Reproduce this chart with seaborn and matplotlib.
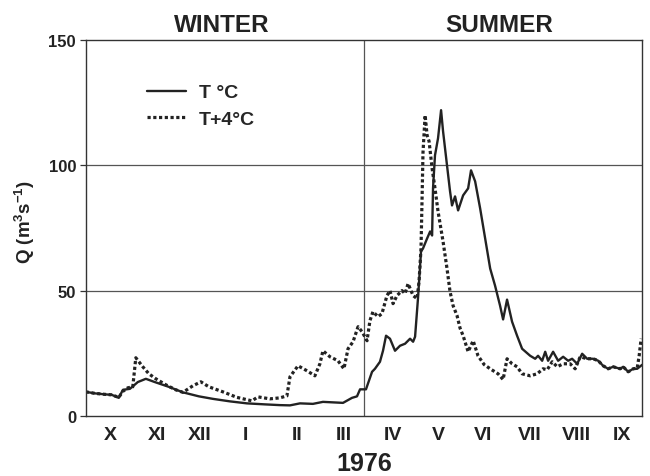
import numpy as np
import pandas as pd
import matplotlib
matplotlib.use("Agg")
import matplotlib.pyplot as plt
from matplotlib.lines import Line2D
import seaborn as sns

# ---- data (day of hydrological year Oct 1975 - Sep 1976, discharge m3/s) ----
t_day = [0, 5.9, 12.5, 17.1, 21.7, 24.4, 29.0, 34.2, 39.5, 45.4, 54.6, 63.9, 74.4,
         83.6, 94.8, 106.0, 117.8, 127.7, 134.3, 140.9, 149.4, 156.0, 169.2, 175.1,
         178.4, 180.4, 184.3, 188.3, 190.2, 193.5, 195.5, 197.5, 200.1, 203.4, 206.7,
         210.0, 213.3, 215.3, 216.6, 218.5, 220.5, 221.8, 224.5, 226.5, 227.8, 228.4,
         229.7, 231.7, 233.7, 235.0, 237.6, 239.6, 240.9, 242.9, 244.9, 248.2, 251.5,
         253.4, 256.1, 259.4, 262.7, 266.0, 269.2, 272.5, 274.5, 277.1, 280.4, 283.7,
         287.0, 292.3, 295.6, 297.5, 300.2, 302.2, 304.1, 307.4, 310.7, 314.0, 317.3,
         319.9, 323.2, 326.5, 329.8, 333.8, 337.1, 340.3, 343.6, 346.9, 351.5, 353.5,
         356.8, 360.1, 362.7, 366]
t_q = [9.6, 9.0, 8.6, 8.4, 7.2, 10.4, 10.8, 13.5, 14.8, 13.5, 11.6, 9.4, 7.8,
       6.8, 5.8, 5.0, 4.6, 4.3, 4.2, 5.0, 4.8, 5.6, 5.2, 7.2,
       7.8, 10.6, 10.6, 17.6, 18.8, 21.6, 26, 32, 30.8, 26, 28,
       28.8, 30.8, 29.6, 31.6, 46.8, 65.6, 66.8, 70.8, 73.6, 72, 90.8,
       104, 110.8, 122, 113.6, 100, 89.6, 84, 87.6, 82, 88, 90.8,
       98, 93.6, 82.8, 70.8, 58.8, 52, 44, 38.5, 46.4, 37.6, 32,
       26.8, 24, 22.8, 24, 22, 25.6, 22, 25.6, 22, 23.6, 22,
       22.8, 20.8, 24.8, 22.8, 22.8, 22, 20, 18.8, 19.6, 18.8, 19.6,
       17.6, 18.8, 18.8, 20.4]

t4_day = [0, 5.9, 12.5, 17.1, 21.7, 24.4, 27.6, 30.9, 32.9, 37.5, 41.5, 46.1, 52.7,
          59.2, 63.9, 70.4, 75.7, 81.0, 90.2, 99.4, 109.3, 113.2, 121.1, 127.7, 132.3,
          134.3, 139.6, 145.5, 150.7, 154.0, 156.0, 160.6, 165.9, 169.8, 172.5, 175.8,
          179.1, 181.7, 185.0, 186.9, 188.9, 192.2, 194.8, 198.1, 200.1, 202.1, 204.7,
          208.0, 210.0, 212.0, 215.3, 217.9, 219.2, 220.5, 221.2, 221.8, 223.2, 224.5,
          225.8, 227.8, 229.7, 231.7, 235.0, 237.6, 239.6, 241.6, 244.2, 246.2, 248.2,
          251.5, 254.8, 258.0, 262.0, 266.0, 271.2, 274.5, 277.1, 280.4, 283.7, 287.0,
          292.3, 296.9, 300.8, 303.5, 306.8, 310.1, 314.0, 318.6, 321.9, 325.2, 329.8,
          333.8, 337.1, 340.3, 343.6, 346.9, 351.5, 353.5, 356.8, 360.1, 362.7, 364.0,
          365.3]
t4_q = [9.6, 9.0, 8.6, 8.4, 7.4, 9.8, 11.2, 11.6, 23.2, 19.6, 16.8, 14.8, 12.4,
        10.4, 9.4, 12, 13.6, 11.6, 9.6, 7.4, 6, 7.6, 6.8, 7.2, 8,
        15.6, 20, 18, 16, 20.8, 26, 23.6, 22, 18.8, 26.8, 29.6,
        35.6, 33.6, 30, 38, 41.6, 39.6, 40.8, 48, 50, 44.8, 48,
        50, 48.8, 52.8, 48, 46.8, 53.6, 66.8, 86.8, 105, 120, 112,
        109.6, 98.8, 90.8, 81.6, 69.6, 58.8, 49.6, 44, 40, 35, 32,
        25.6, 30, 24, 20.5, 18.8, 16.8, 14.5, 22.8, 20.8, 19.6, 16.8,
        16, 16.8, 18.8, 18.4, 21.6, 19.6, 20.8, 20.8, 18.8, 23.6, 22.8,
        22.8, 22, 20, 18.8, 19.6, 18.8, 19.6, 17.6, 18.8, 19, 24,
        30.8]

series_names = ["T °C", "T+4°C"]
month_labels = ["X", "XI", "XII", "I", "II", "III", "IV", "V", "VI", "VII", "VIII", "IX"]
month_pos = [16, 47, 75, 105, 139, 170, 202, 232, 261, 292, 323, 353]
y_ticks = [0, 50, 100, 150]
season_split = 183  # 1 April

df = pd.concat([
    pd.DataFrame({"day": t_day, "Q": t_q, "series": series_names[0]}),
    pd.DataFrame({"day": t4_day, "Q": t4_q, "series": series_names[1]}),
], ignore_index=True)

# ---- style ----
sns.set_style("white")
plt.rcParams["font.family"] = ["Liberation Sans", "DejaVu Sans"]
plt.rcParams["font.weight"] = "bold"
plt.rcParams["mathtext.fontset"] = "custom"
plt.rcParams["mathtext.rm"] = "Liberation Sans:bold"
plt.rcParams["mathtext.it"] = "Liberation Sans:bold"
plt.rcParams["mathtext.bf"] = "Liberation Sans:bold"

ink = "#222222"
fig = plt.figure(figsize=(6.5, 4.77), dpi=100)
ax = fig.add_axes([0.132, 0.126, 0.856, 0.788])

sns.lineplot(data=df, x="day", y="Q", style="series", ax=ax, color=ink,
             estimator=None, sort=False, legend=False,
             dashes={series_names[0]: "", series_names[1]: (1, 0.8)},
             style_order=series_names)
lines = ax.get_lines()
lines[0].set_linewidth(1.7)
lines[1].set_linewidth(2.3)

ax.set_xlim(0, 366)
ax.set_ylim(0, 150)

for yv in [50, 100]:
    ax.axhline(yv, color="#555555", lw=0.9, zorder=0)
ax.axvline(season_split, color="#555555", lw=0.9, zorder=0)

for s in ax.spines.values():
    s.set_color("#333333")
    s.set_linewidth(1.0)

ax.set_xticks(month_pos)
ax.set_xticklabels(month_labels, fontsize=14, fontweight="bold", color=ink)
ax.tick_params(axis="x", length=0, pad=7)
ax.set_yticks(y_ticks)
ax.set_yticklabels([str(v) for v in y_ticks], fontsize=12, fontweight="bold", color=ink)
ax.tick_params(axis="y", length=4, width=0.9, direction="out", color="#333333", pad=3, left=True)

ax.set_xlabel("1976", fontsize=18, fontweight="bold", color=ink, labelpad=6)
ax.set_ylabel(r"Q (m$^{3}$s$^{-1}$)", fontsize=13.5, fontweight="bold", color=ink)
ax.yaxis.set_label_coords(-0.088, 0.519)

ax.text(0.245, 1.04, "WINTER", transform=ax.transAxes, ha="center", va="center",
        fontsize=17.5, fontweight="bold", color=ink)
ax.text(0.743, 1.04, "SUMMER", transform=ax.transAxes, ha="center", va="center",
        fontsize=17.5, fontweight="bold", color=ink)

handles = [Line2D([], [], color=ink, lw=1.7),
           Line2D([], [], color=ink, lw=2.3, linestyle=(0, (1, 0.8)))]
ax.legend(handles, series_names, loc="upper left", bbox_to_anchor=(0.078, 0.93),
          frameon=False, handlelength=2.0, handletextpad=0.7, labelspacing=0.45,
          prop={"size": 14, "weight": "bold"})

fig.savefig("out.png", dpi=100, facecolor="white")
